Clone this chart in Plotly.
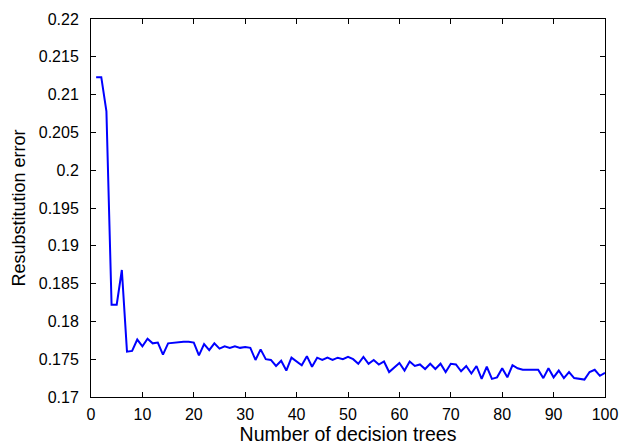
import plotly.graph_objects as go

num_trees = list(range(1, 101))
resub_error = [
    0.2123, 0.2123, 0.2078, 0.1822, 0.1822, 0.1868, 0.1760, 0.1761, 0.1776, 0.1767,
    0.1777, 0.1771, 0.1772, 0.1756, 0.1771, 0.1772, 0.1773, 0.1773, 0.1773, 0.1772,
    0.1755, 0.1770, 0.1762, 0.1771, 0.1764, 0.1767, 0.1765, 0.1767, 0.1765, 0.1766,
    0.1765, 0.1749, 0.1763, 0.1750, 0.1749, 0.1741, 0.1748, 0.1735, 0.1752, 0.1747,
    0.1742, 0.1754, 0.1740, 0.1752, 0.1749, 0.1752, 0.1749, 0.1752, 0.1750, 0.1753,
    0.1750, 0.1744, 0.1753, 0.1744, 0.1749, 0.1743, 0.1747, 0.1733, 0.1739, 0.1745,
    0.1735, 0.1747, 0.1741, 0.1743, 0.1737, 0.1744, 0.1737, 0.1744, 0.1733, 0.1744,
    0.1743, 0.1734, 0.1741, 0.1731, 0.1741, 0.1724, 0.1740, 0.1724, 0.1726, 0.1738,
    0.1726, 0.1742, 0.1738, 0.1736, 0.1736, 0.1736, 0.1736, 0.1725, 0.1738, 0.1726,
    0.1735, 0.1725, 0.1733, 0.1725, 0.1724, 0.1723, 0.1733, 0.1736, 0.1728, 0.1732,
]

x_tickvals = [0, 10, 20, 30, 40, 50, 60, 70, 80, 90, 100]
y_tickvals = [0.17, 0.175, 0.18, 0.185, 0.19, 0.195, 0.2, 0.205, 0.21, 0.215, 0.22]
y_ticktext = ["0.17", "0.175", "0.18", "0.185", "0.19", "0.195", "0.2", "0.205", "0.21", "0.215", "0.22"]

font_family = "Arial, Liberation Sans, Helvetica, sans-serif"

fig = go.Figure(
    go.Scatter(
        x=num_trees,
        y=resub_error,
        mode="lines",
        line=dict(color="#0000FF", width=2),
        hoverinfo="skip",
    )
)

axis_common = dict(
    showline=True,
    linecolor="black",
    linewidth=1,
    mirror="ticks",
    ticks="inside",
    ticklen=5,
    tickcolor="black",
    showgrid=False,
    zeroline=False,
    automargin=False,
    tickfont=dict(family=font_family, size=16, color="black"),
)

fig.update_layout(
    width=622,
    height=448,
    margin=dict(l=91, r=17, t=19, b=51, autoexpand=False),
    paper_bgcolor="white",
    plot_bgcolor="white",
    showlegend=False,
    xaxis=dict(
        range=[0, 100],
        tickvals=x_tickvals,
        title=dict(text="Number of decision trees", font=dict(family=font_family, size=19.5, color="black"), standoff=2),
        ticklabelstandoff=3,
        **axis_common,
    ),
    yaxis=dict(
        range=[0.17, 0.22],
        tickvals=y_tickvals,
        ticktext=y_ticktext,
        title=dict(text="Resubstitution error", font=dict(family=font_family, size=18, color="black"), standoff=8),
        ticklabelstandoff=8,
        **axis_common,
    ),
)

fig.write_html(
    "out.html",
    config={"displayModeBar": False, "staticPlot": True},
    post_script="document.body.style.margin='0';document.body.style.overflow='hidden';",
)
